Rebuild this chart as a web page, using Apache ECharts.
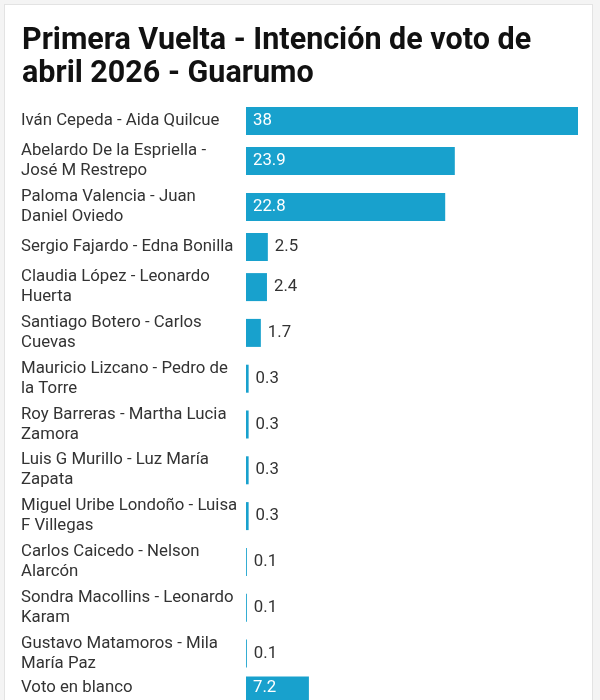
<!DOCTYPE html>
<html><head><meta charset="utf-8">
<script src="https://cdn.jsdelivr.net/npm/echarts@6/dist/echarts.min.js"></script>
<style>
html,body{margin:0;padding:0;background:#f4f4f4;width:600px;height:700px;overflow:hidden}
#frame{position:absolute;left:4px;top:4px;width:587px;height:720px;background:#fff;border:1px solid #e3e3e3;}
#chart{position:absolute;left:0;top:0;width:600px;height:700px}
</style></head><body><div id="frame"></div><div id="chart"></div>
<script>
const titleLines = ['Primera Vuelta - Intención de voto de', 'abril 2026 - Guarumo'];
const categories = [
  'Iván Cepeda - Aida Quilcue',
  'Abelardo De la Espriella - José M Restrepo',
  'Paloma Valencia - Juan Daniel Oviedo',
  'Sergio Fajardo - Edna Bonilla',
  'Claudia López - Leonardo Huerta',
  'Santiago Botero - Carlos Cuevas',
  'Mauricio Lizcano - Pedro de la Torre',
  'Roy Barreras - Martha Lucia Zamora',
  'Luis G Murillo - Luz María Zapata',
  'Miguel Uribe Londoño - Luisa F Villegas',
  'Carlos Caicedo - Nelson Alarcón',
  'Sondra Macollins - Leonardo Karam',
  'Gustavo Matamoros - Mila María Paz',
  'Voto en blanco'
];
const values = [38, 23.9, 22.8, 2.5, 2.4, 1.7, 0.3, 0.3, 0.3, 0.3, 0.1, 0.1, 0.1, 7.2];

const LABEL_FONT_FAMILY = 'Roboto';
const LABEL_SIZE = 16.8;
const ctx = document.createElement('canvas').getContext('2d');
ctx.font = LABEL_SIZE + 'px ' + LABEL_FONT_FAMILY;
function wrap(text, maxW) {
  const words = text.split(' ');
  const lines = [];
  let cur = '';
  words.forEach(w => {
    const t = cur ? cur + ' ' + w : w;
    if (cur && ctx.measureText(t).width > maxW) { lines.push(cur); cur = w; }
    else cur = t;
  });
  if (cur) lines.push(cur);
  return lines.join('\n');
}
const wrapped = categories.map(c => wrap(c, 222));
const lineCounts = wrapped.map(w => w.split('\n').length);

const ROW1 = 34.4, ROW2 = 45.8;
const LEFT = 246, PLOT_W = 332, BAR_H = 28;
const maxV = Math.max(...values);
const grid = [], xAxis = [], yAxis = [], series = [];
let y = 121 - ROW1 / 2;
categories.forEach((c, i) => {
  const h = lineCounts[i] > 1 ? ROW2 : ROW1;
  grid.push({ left: LEFT, top: y, width: PLOT_W, height: h, containLabel: false });
  xAxis.push({ gridIndex: i, type: 'value', min: 0, max: maxV, show: false });
  yAxis.push({
    gridIndex: i, type: 'category', data: [wrapped[i]],
    axisLine: { show: false }, axisTick: { show: false }, splitLine: { show: false },
    axisLabel: { align: 'left', margin: LEFT - 21, fontSize: LABEL_SIZE, fontFamily: LABEL_FONT_FAMILY, color: '#333', lineHeight: 20 }
  });
  const barPx = values[i] / maxV * PLOT_W;
  const inside = barPx > ctx.measureText(String(values[i])).width + 14;
  series.push({
    type: 'bar', xAxisIndex: i, yAxisIndex: i, data: [values[i]], barWidth: BAR_H,
    itemStyle: { color: '#18a1cd' }, silent: true,
    label: { show: true, position: inside ? 'insideLeft' : 'right', distance: 7,
      color: inside ? '#ffffff' : '#333', fontSize: LABEL_SIZE, fontFamily: LABEL_FONT_FAMILY }
  });
  y += h;
});

const chart = echarts.init(document.getElementById('chart'), null, { renderer: 'canvas' });
chart.setOption({
  animation: false,
  title: {
    text: titleLines.join('\n'), left: 17, top: 20,
    textStyle: { fontFamily: 'Roboto', fontWeight: 'bold', fontSize: 30.5, lineHeight: 33, color: '#111' }
  },
  grid, xAxis, yAxis, series
});
</script></body></html>
